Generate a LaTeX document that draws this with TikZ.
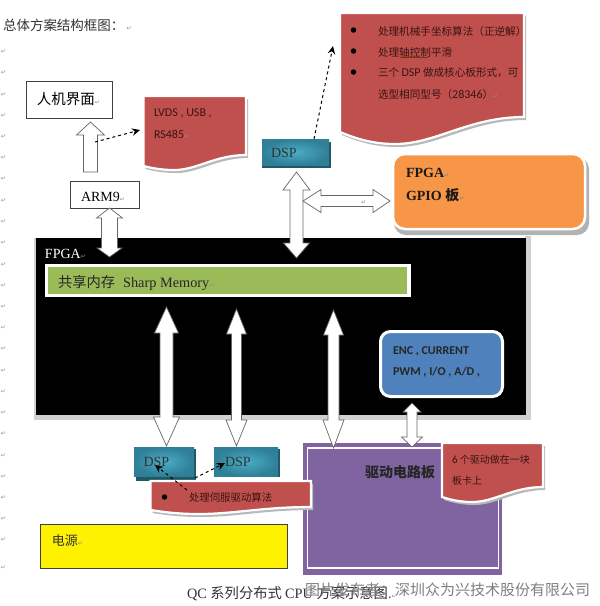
\documentclass[tikz,border=0pt]{standalone}
\usepackage{fontspec}
\setmainfont{Liberation Serif}
\newfontfamily\cjk{Noto Sans CJK SC}
\newfontfamily\cali{Carlito}
\newfontfamily\dejav{DejaVu Sans}
\usetikzlibrary{calc,arrows.meta}
\definecolor{docred}{HTML}{C0504D}
\definecolor{teal1}{HTML}{4BACC6}
\definecolor{teal2}{HTML}{2F7F97}
\definecolor{teal3}{HTML}{205867}
\definecolor{inktext}{HTML}{3A1412}
\newcommand{\retm}{{\dejav\fontsize{6}{6}\selectfont\textcolor{black!45}{↵}}}
\tikzset{
  x=1pt,y=-1pt,
  boxn/.style={anchor=north west,inner sep=0pt,outer sep=0pt},
  plainbox/.style={boxn,draw=black!75,fill=white,line width=.8pt},
  lab/.style={anchor=west,inner sep=0pt,outer sep=0pt},
  blockarrow/.style={draw=black!60,fill=white,line width=.7pt,line join=miter},
  dasharrow/.style={dashed,line width=1pt,-{Stealth[length=8pt,width=7.5pt]}},
  docshape/.style={fill=docred,draw=white,line width=2.2pt,line join=miter},
  docshadow/.style={fill=black!28},
  dspbox/.style={boxn,inner color=teal1,outer color=teal2},
  dspshadow/.style={fill=teal3},
  bullet/.style={circle,fill=black,inner sep=0pt,outer sep=0pt,minimum size=5.5pt},
  retmark/.style={anchor=west,inner sep=0pt,outer sep=0pt},
}
% name x1 y1 x2 yleft yright depth
\newcommand{\wavedoc}[7]{%
  \fill[docshadow,shift={(2,3)}] (#2,#3) -- (#4,#3) -- (#4,#6)
     .. controls ({#2+.7*(#4-#2)},#6) and ({#2+.52*(#4-#2)},{#5+#7}) .. ({#2+.3*(#4-#2)},{#5+#7})
     .. controls ({#2+.17*(#4-#2)},{#5+#7}) and ({#2+.08*(#4-#2)},{#5+.5*#7}) .. (#2,#5) -- cycle;
  \draw[docshape] (#2,#3) -- (#4,#3) -- (#4,#6)
     .. controls ({#2+.7*(#4-#2)},#6) and ({#2+.52*(#4-#2)},{#5+#7}) .. ({#2+.3*(#4-#2)},{#5+#7})
     .. controls ({#2+.17*(#4-#2)},{#5+#7}) and ({#2+.08*(#4-#2)},{#5+.5*#7}) .. (#2,#5) -- cycle;
  \coordinate (#1) at (#2,#3);
}
% top tip, bottom tip, half shaft, half head top, head len top, half head bottom, head len bottom
\newcommand{\dblV}[7]{%
  \draw[blockarrow] (#1) -- ++(#4,#5) -- ++({#3-#4},0) -- ($(#2)+(#3,-#7)$) -- ++({#6-#3},0) -- (#2)
    -- ++({-#6},{-#7}) -- ++({#6-#3},0) -- ($(#1)+(-#3,#5)$) -- ++({#3-#4},0) -- cycle;
}
\begin{document}
\begin{tikzpicture}
\useasboundingbox[fill=white] (0,0) rectangle (600,606);

% paragraph marks at left margin
\foreach \yy [count=\i] in {52,73,95,116,137,158,179,201,222,243,265,286,307,328,349,371,392,413,434,456,477,498,519,540,568}
  \node[retmark,name=rm\i] at (1,\yy) {\retm};

% title
\node[lab] (title) at (3,25) {\cjk\fontsize{13.5}{14}\selectfont\textcolor{black!80}{总体方案结构框图：}\,\retm};

% top-left boxes
\node[plainbox,minimum width=86pt,minimum height=37pt] (hmi) at (26,81) {};
\node[lab] (hmit) at (37,99) {\cjk\fontsize{14.5}{15}\selectfont 人机界面\retm};
\node[plainbox,minimum width=69pt,minimum height=27pt] (arm) at (70,181) {};
\node[lab] (armt) at (81,197) {\fontsize{14}{15}\selectfont ARM9\retm};

% FPGA black
\fill[black!18] (33.5,236) rectangle (530.5,420);
\fill[white] (33.5,236) rectangle (525,238);
\node[boxn,fill=black,minimum width=490pt,minimum height=177pt] (fpga) at (35.5,238) {};
\node[lab,text=white] (fpgat) at (45,254) {\fontsize{14}{15}\selectfont FPGA\retm};
\node[boxn,fill=white,minimum width=366pt,minimum height=33pt] (memw) at (44.5,264) {};
\node[boxn,fill={rgb,255:red,155;green,187;blue,89},minimum width=359pt,minimum height=27pt] (memg) at (48,267) {};
\node[lab,text=black!85] (memt) at (58,283) {\cjk\fontsize{14.3}{15}\selectfont 共享内存\;\;{\rmfamily Sharp Memory}\retm};

% ENC blue
\node[boxn,draw=white,line width=3pt,fill={rgb,255:red,79;green,129;blue,189},rounded corners=10pt,minimum width=122pt,minimum height=65pt] (enc) at (380.5,331.5) {};
\node[lab,text=black!85] (enct1) at (393,351) {\cali\bfseries\fontsize{12}{13}\selectfont ENC , CURRENT};
\node[lab,text=black!85] (enct2) at (393,372) {\cali\bfseries\fontsize{12}{13}\selectfont PWM , I/O , A/D ,};

% red doc 1
\wavedoc{docA}{143.5}{96}{246}{166}{155}{4}
\node[lab,text=inktext] (docAt1) at (154,113) {\cali\fontsize{12}{13}\selectfont LVDS , USB ,};
\node[lab,text=inktext] (docAt2) at (154,134) {\cali\fontsize{12}{13}\selectfont RS485\retm};

% red doc 2
\wavedoc{docB}{340}{13}{524}{132}{117}{12}
\node[bullet] (bb1) at (353.5,30) {};
\node[bullet] (bb2) at (353.5,51) {};
\node[bullet] (bb3) at (353.5,72) {};
\node[lab,text=inktext] (docBt1) at (378,31) {\cjk\fontsize{10.6}{11}\selectfont 处理机械手坐标算法（正逆解）};
\node[lab,text=inktext] (docBt2) at (378,52) {\cjk\fontsize{10.6}{11}\selectfont 处理轴控制平滑};
\node[lab,text=inktext] (docBt3) at (378,73) {\cjk\fontsize{10.6}{11}\selectfont 三个 {\cali\fontsize{12}{13}\selectfont DSP} 做成核心板形式，可};
\node[lab,text=inktext] (docBt4) at (378,94) {\cjk\fontsize{10.6}{11}\selectfont 选型相同型号（{\cali\fontsize{12}{13}\selectfont 28346}）\retm};
\draw[black!55!orange,line width=.5pt] (400,57) -- (428,57);

% DSP top
\fill[dspshadow] (262,142) rectangle (331,167.5);
\node[dspbox,minimum width=67pt,minimum height=26pt] (dspT) at (262,139) {};
\node[lab,text=black!80] (dspTt) at (271,153) {\fontsize{14}{15}\selectfont DSP};

% orange
\fill[black!30,rounded corners=12pt] (394,157) rectangle (589,235);
\node[boxn,draw=white,line width=2.5pt,fill={rgb,255:red,247;green,150;blue,70},rounded corners=12pt,minimum width=192pt,minimum height=75pt] (gpio) at (393,154) {};
\node[lab,text=black!90] (gpiot1) at (406,173) {\bfseries\fontsize{14}{15}\selectfont FPGA\retm};
\node[lab,text=black!90] (gpiot2) at (406,195) {\bfseries\fontsize{14}{15}\selectfont GPIO \cjk 板\retm};

% purple
\node[boxn,fill={rgb,255:red,128;green,100;blue,162},minimum width=199pt,minimum height=132pt] (drv) at (303,443) {};
\node[boxn,draw=white,line width=1.6pt,minimum width=191pt,minimum height=120pt] (drvin) at (307.5,448) {};
\node[lab,text=black!85] (drvt) at (365,472) {\cjk\bfseries\fontsize{14}{15}\selectfont 驱动电路板};

% DSP lower
\fill[dspshadow] (136,449) rectangle (195.5,481);
\node[dspbox,minimum width=60pt,minimum height=29pt] (dspA) at (134,447) {};
\node[lab,text=black!80] (dspAt) at (143.5,462) {\fontsize{14}{15}\selectfont DSP};
\fill[dspshadow] (216,449) rectangle (280,477);
\node[dspbox,minimum width=64pt,minimum height=29pt] (dspB) at (214,447) {};
\node[lab,text=black!80] (dspBt) at (225,462) {\fontsize{14}{15}\selectfont DSP};

% red doc 3
\wavedoc{docC}{150.5}{481}{311}{510}{507}{4}
\node[bullet] (bc1) at (164.5,497) {};
\node[lab,text=inktext] (docCt) at (189,498) {\cjk\fontsize{10.4}{11}\selectfont 处理伺服驱动算法};

% red doc 4
\wavedoc{docD}{442}{443}{543}{497}{487}{5}
\node[lab,text=inktext] (docDt1) at (452,460) {\cjk\fontsize{10}{11}\selectfont {\cali\fontsize{11}{12}\selectfont 6} 个驱动做在一块};
\node[lab,text=inktext] (docDt2) at (452,481) {\cjk\fontsize{10}{11}\selectfont 板卡上};

% yellow
\node[boxn,draw=black!75,fill=yellow,line width=.7pt,minimum width=247pt,minimum height=44pt] (pwr) at (40,524) {};
\node[lab,text=black!80] (pwrt) at (52,541) {\cjk\fontsize{13}{14}\selectfont 电源\retm};

% block arrows
\coordinate (u1) at (90.5,122);
\coordinate (u2) at (90.5,172);
\draw[blockarrow] (u1) -- ++(14,13) -- ++(-7,0) -- ($(u2)+(7,0)$) -- ($(u2)+(-7,0)$) -- ($(u1)+(-7,13)$) -- ++(-7,0) -- cycle;
\coordinate (a1) at (109.5,208); \coordinate (b1) at (109.5,257);
\dblV{a1}{b1}{8}{13}{10}{12.5}{9}
\coordinate (a2) at (296.5,172); \coordinate (b2) at (296.5,258);
\dblV{a2}{b2}{6.5}{13.5}{18}{13}{15}
\coordinate (a3) at (166.5,307); \coordinate (b3) at (166.5,446);
\dblV{a3}{b3}{6.5}{12}{26}{13}{29}
\coordinate (a4) at (236.5,309); \coordinate (b4) at (236.5,446);
\dblV{a4}{b4}{5}{10}{25}{10.5}{26}
\coordinate (a5) at (333.5,310); \coordinate (b5) at (333.5,448);
\dblV{a5}{b5}{5.5}{10}{25}{10.5}{28}
\coordinate (a6) at (412,403); \coordinate (b6) at (412,447);
\dblV{a6}{b6}{5}{9}{9}{10.5}{10}
\coordinate (h1) at (303,201); \coordinate (h2) at (390,201);
\draw[blockarrow] (h1) -- ++(18,-11.5) -- ++(0,6) -- ($(h2)+(-17,-5.5)$) -- ++(0,-6) -- (h2) -- ++(-17,11.5) -- ++(0,-6) -- ($(h1)+(18,5.5)$) -- ++(0,6) -- cycle;
\node[retmark] (hm) at (361,203) {\retm};

% dashed connectors
\coordinate (d1s) at (95,142); \coordinate (d1e) at (140,130);
\draw[dasharrow] (d1s) -- (d1e);
\coordinate (d2s) at (314,139); \coordinate (d2e) at (333,46);
\draw[dasharrow] (d2s) -- (d2e);
\coordinate (d3s) at (187,490); \coordinate (d3e) at (155,465);
\draw[dasharrow] (d3s) -- (d3e);
\coordinate (d4s) at (195,478); \coordinate (d4e) at (225,463);
\draw[dasharrow] (d4s) -- (d4e);

% caption and watermark
\node[lab,text=black!80] (cap) at (187,594) {\fontsize{14.3}{15}\selectfont QC \cjk 系列分布式 \rmfamily CPU \cjk 方案示意图\rmfamily .\retm};
\node[lab,text=black!50] (mark) at (305,590) {\cjk\fontsize{15}{16}\selectfont 图片发布者：深圳众为兴技术股份有限公司};
\end{tikzpicture}
\end{document}
